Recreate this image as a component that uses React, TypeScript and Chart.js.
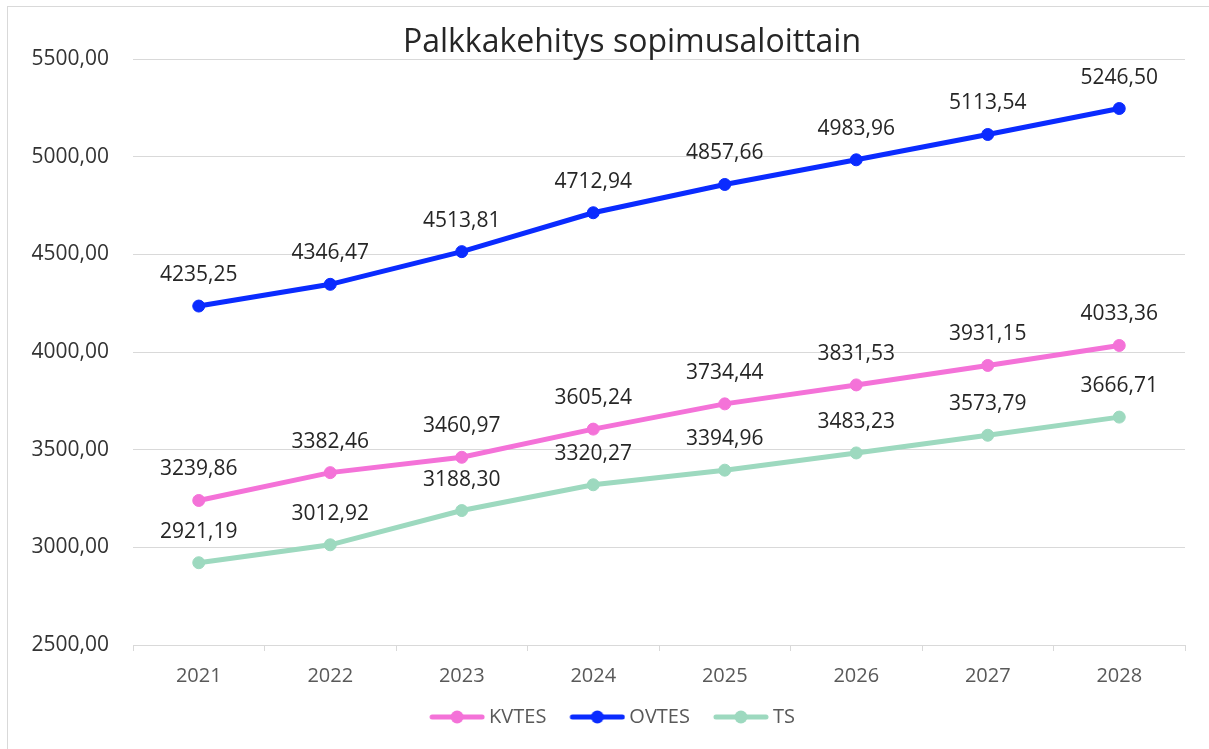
import React, { useEffect, useRef } from "react";
import { Chart, registerables } from "chart.js";

Chart.register(...registerables);

const categories = ["2021", "2022", "2023", "2024", "2025", "2026", "2027", "2028"];
const kvtes = [3239.86, 3382.46, 3460.97, 3605.24, 3734.44, 3831.53, 3931.15, 4033.36];
const ovtes = [4235.25, 4346.47, 4513.81, 4712.94, 4857.66, 4983.96, 5113.54, 5246.5];
const ts = [2921.19, 3012.92, 3188.3, 3320.27, 3394.96, 3483.23, 3573.79, 3666.71];
const seriesNames = ["KVTES", "OVTES", "TS"];
const seriesColors = ["#F472D8", "#0A2BFF", "#9DD9BF"];
const yMin = 2500;
const yMax = 5500;
const yStep = 500;
const title = "Palkkakehitys sopimusaloittain";

const FONT = "'Open Sans', 'Noto Sans', sans-serif";
const fmt = (v: number) => v.toFixed(2).replace(".", ",");

function legendMarker(color: string, boxW: number): HTMLCanvasElement {
  const W = boxW + 12;
  const H = 16;
  const c = document.createElement("canvas");
  c.width = W;
  c.height = H;
  const ctx = c.getContext("2d")!;
  const x0 = W - 56;
  const x1 = W;
  ctx.strokeStyle = color;
  ctx.lineWidth = 5;
  ctx.lineCap = "round";
  ctx.beginPath();
  ctx.moveTo(x0 + 3, H / 2);
  ctx.lineTo(x1 - 3, H / 2);
  ctx.stroke();
  ctx.fillStyle = color;
  ctx.beginPath();
  ctx.arc((x0 + x1) / 2, H / 2, 6.5, 0, Math.PI * 2);
  ctx.fill();
  return c;
}

const titlePlugin = {
  id: "customTitle",
  afterDraw(chart: any) {
    const ctx = chart.ctx;
    ctx.save();
    ctx.font = `32px ${FONT}`;
    ctx.fillStyle = "#262626";
    ctx.textAlign = "center";
    ctx.textBaseline = "alphabetic";
    ctx.fillText(title, 632, 52);
    ctx.restore();
  },
};

const dataLabelPlugin = {
  id: "dataLabels",
  afterDatasetsDraw(chart: any) {
    const ctx = chart.ctx;
    ctx.save();
    ctx.font = `21px ${FONT}`;
    ctx.fillStyle = "#262626";
    ctx.textAlign = "center";
    ctx.textBaseline = "middle";
    chart.data.datasets.forEach((ds: any, i: number) => {
      const meta = chart.getDatasetMeta(i);
      meta.data.forEach((pt: any, j: number) => {
        ctx.fillText(fmt(ds.data[j]), pt.x, pt.y - 31);
      });
    });
    ctx.restore();
  },
};

export default function App() {
  const ref = useRef<HTMLCanvasElement | null>(null);

  useEffect(() => {
    if (!ref.current) return;
    const boxW = 63;
    const markers = seriesColors.map((c) => legendMarker(c, boxW));
    const values = [kvtes, ovtes, ts];
    const chart = new Chart(ref.current, {
      type: "line",
      data: {
        labels: categories,
        datasets: seriesNames.map((name, i) => ({
          label: name,
          data: values[i],
          borderColor: seriesColors[i],
          backgroundColor: seriesColors[i],
          pointBackgroundColor: seriesColors[i],
          pointBorderColor: seriesColors[i],
          borderWidth: 5,
          pointRadius: 6,
          pointBorderWidth: 1,
          tension: 0,
          fill: false,
        })),
      },
      options: {
        responsive: false,
        maintainAspectRatio: false,
        animation: false,
        layout: { padding: { left: 26, right: 24, top: 59, bottom: 12 } },
        plugins: {
          title: { display: false },
          legend: {
            position: "bottom",
            labels: {
              color: "#595959",
              font: { family: FONT, size: 20 },
              usePointStyle: true,
              pointStyleWidth: boxW,
              padding: 10,
              generateLabels: (ch: any) => {
                const base = Chart.defaults.plugins.legend.labels.generateLabels(ch);
                return base.map((l: any, i: number) => ({ ...l, pointStyle: markers[i] }));
              },
            },
          },
          tooltip: { enabled: false },
        },
        scales: {
          x: {
            offset: true,
            grid: {
              offset: true,
              drawOnChartArea: false,
              drawTicks: true,
              tickLength: 6,
              color: "#d9d9d9",
            },
            border: { display: true, color: "#d9d9d9" },
            ticks: {
              color: "#595959",
              font: { family: FONT, size: 20 },
              padding: 13,
            },
            afterFit: (s: any) => {
              s.height = 52;
            },
          },
          y: {
            min: yMin,
            max: yMax,
            ticks: {
              stepSize: yStep,
              color: "#333333",
              font: { family: FONT, size: 21 },
              padding: 24,
              callback: (v: any) => fmt(Number(v)),
            },
            grid: { color: "#d9d9d9", drawTicks: false },
            border: { display: false },
            afterFit: (s: any) => {
              s.width = 107;
            },
          },
        },
      },
      plugins: [dataLabelPlugin, titlePlugin],
    } as any);
    return () => chart.destroy();
  }, []);

  return (
    <div
      style={{
        position: "fixed",
        left: 0,
        top: 0,
        width: 1209,
        height: 749,
        background: "#ffffff",
        overflow: "hidden",
      }}
    >
      <div
        style={{
          position: "absolute",
          left: 7,
          top: 6,
          right: -4,
          bottom: -4,
          border: "1px solid #d9d9d9",
        }}
      />
      <canvas
        ref={ref}
        width={1209}
        height={749}
        style={{ position: "absolute", left: 0, top: 0, width: 1209, height: 749 }}
      />
    </div>
  );
}
